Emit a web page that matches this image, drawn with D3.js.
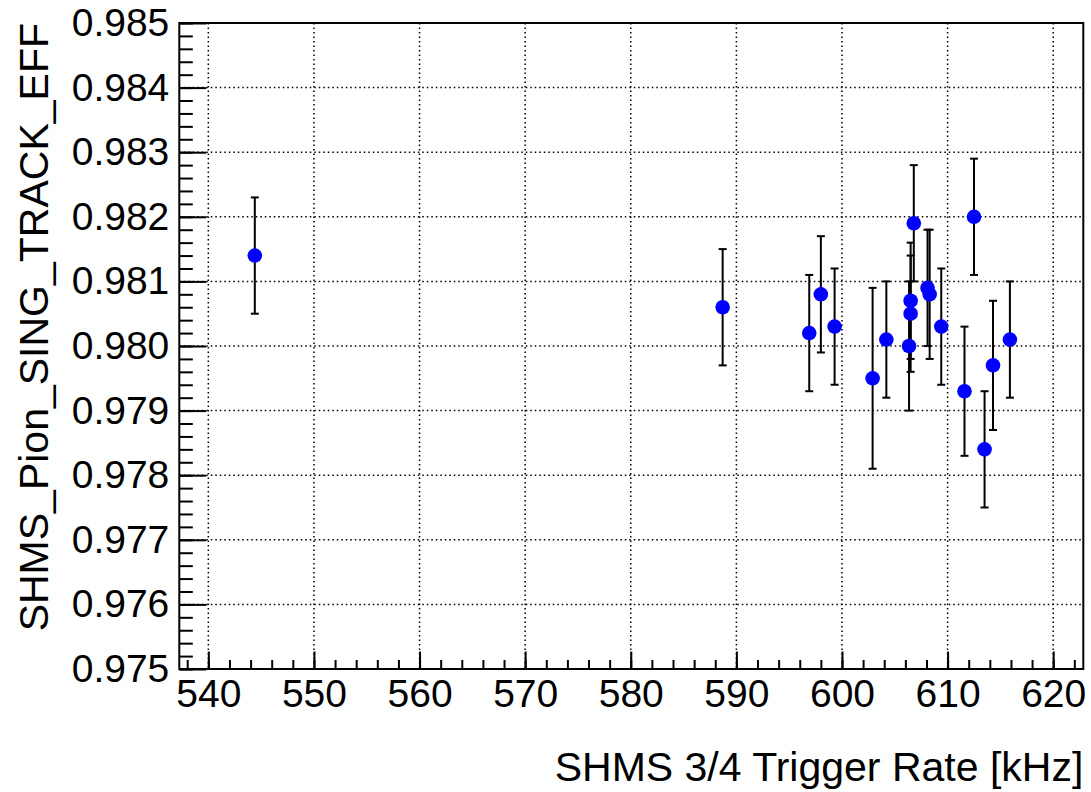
<!DOCTYPE html>
<html>
<head>
<meta charset="utf-8">
<script src="https://cdn.jsdelivr.net/npm/d3@7"></script>
<style>
  body { margin: 0; background: #fff; }
  svg { display: block; font-family: "Liberation Sans", Arial, sans-serif; }
  .axis .domain { display: none; }
  .axis line { stroke: #000; stroke-width: 2; }
  .axis text { font-size: 39px; fill: #000; font-family: "Liberation Sans", Arial, sans-serif; }
  .grid line { stroke: #000; stroke-width: 1.5; stroke-dasharray: 1.5,3; }
</style>
</head>
<body>
<svg id="graph"></svg>
<script>
// SHMS 3/4 trigger rate [kHz]
var rate = [544.4, 588.7, 596.9, 598.0, 599.3, 602.9, 604.2, 606.35, 606.5, 606.5,
            606.8, 608.1, 608.3, 609.4, 611.6, 612.5, 613.5, 614.3, 615.9];
// SHMS_Pion_SING_TRACK_EFF
var eff = [0.9814, 0.9806, 0.9802, 0.9808, 0.9803, 0.9795, 0.9801, 0.9800, 0.9805, 0.9807,
           0.9819, 0.9809, 0.9808, 0.9803, 0.9793, 0.9820, 0.9784, 0.9797, 0.9801];
var effErr = [0.0009, 0.0009, 0.0009, 0.0009, 0.0009, 0.0014, 0.0009, 0.0010, 0.0009, 0.0009,
              0.0009, 0.0009, 0.0010, 0.0009, 0.0010, 0.0009, 0.0009, 0.0010, 0.0009];

var xMajor = d3.range(540, 621, 10);
var xMinor = d3.range(538, 623, 2);
var yMajor = d3.range(0, 11).map(function (i) { return +(0.975 + i * 0.001).toFixed(3); });
var yMinor = d3.range(0, 51).map(function (i) { return +(0.975 + i * 0.0002).toFixed(4); });

var data = rate.map(function (r, i) {
    return { rate: r, eff: eff[i], err: effErr[i] };
});

var W = 1091, H = 792;
var margin = { top: 23, left: 179.3, bottom: 123, right: 7.7 };
var width = W - margin.left - margin.right;
var height = H - margin.top - margin.bottom;

var svg = d3.select('#graph')
    .attr('width', W)
    .attr('height', H)
    .append('g')
    .attr('transform', 'translate(' + margin.left + ',' + margin.top + ')');

var xScale = d3.scaleLinear().domain([537.25, 622.85]).range([0, width]);
var yScale = d3.scaleLinear().domain([0.975, 0.985]).range([height, 0]);

// dotted grid at major ticks
var grid = svg.append('g').attr('class', 'grid');
grid.selectAll('.gx').data(xMajor).enter().append('line')
    .attr('x1', function (d) { return xScale(d); })
    .attr('x2', function (d) { return xScale(d); })
    .attr('y1', 0).attr('y2', height);
grid.selectAll('.gy').data(yMajor).enter().append('line')
    .attr('x1', 0).attr('x2', width)
    .attr('y1', function (d) { return yScale(d); })
    .attr('y2', function (d) { return yScale(d); });

// minor ticks (inside)
svg.append('g')
    .attr('class', 'axis')
    .attr('transform', 'translate(0,' + height + ')')
    .call(d3.axisBottom(xScale).tickValues(xMinor).tickSize(-9).tickFormat(''));
svg.append('g')
    .attr('class', 'axis')
    .call(d3.axisLeft(yScale).tickValues(yMinor).tickSize(-13.5).tickFormat(''));

// major ticks + labels
svg.append('g')
    .attr('class', 'axis x')
    .attr('transform', 'translate(0,' + height + ')')
    .call(d3.axisBottom(xScale).tickValues(xMajor).tickSize(-17.5).tickPadding(10)
        .tickFormat(d3.format('d')));
svg.append('g')
    .attr('class', 'axis y')
    .call(d3.axisLeft(yScale).tickValues(yMajor).tickSize(-27).tickPadding(10)
        .tickFormat(d3.format('.3f')));

// frame
svg.append('rect')
    .attr('width', width)
    .attr('height', height)
    .attr('fill', 'none')
    .attr('stroke', '#000')
    .attr('stroke-width', 2);

// error bars
var bars = svg.append('g').attr('class', 'errors')
    .selectAll('g').data(data).enter().append('g')
    .attr('stroke', '#000')
    .attr('stroke-width', 2);
bars.append('line')
    .attr('x1', function (d) { return xScale(d.rate); })
    .attr('x2', function (d) { return xScale(d.rate); })
    .attr('y1', function (d) { return yScale(d.eff + d.err); })
    .attr('y2', function (d) { return yScale(d.eff - d.err); });
bars.append('line')  //top cap
    .attr('x1', function (d) { return xScale(d.rate) - 4; })
    .attr('x2', function (d) { return xScale(d.rate) + 4; })
    .attr('y1', function (d) { return yScale(d.eff + d.err); })
    .attr('y2', function (d) { return yScale(d.eff + d.err); });
bars.append('line')  //bottom cap
    .attr('x1', function (d) { return xScale(d.rate) - 4; })
    .attr('x2', function (d) { return xScale(d.rate) + 4; })
    .attr('y1', function (d) { return yScale(d.eff - d.err); })
    .attr('y2', function (d) { return yScale(d.eff - d.err); });

// markers
svg.append('g').selectAll('circle').data(data).enter().append('circle')
    .attr('cx', function (d) { return xScale(d.rate); })
    .attr('cy', function (d) { return yScale(d.eff); })
    .attr('r', 7.3)
    .attr('fill', '#0000ff');

// axis titles
svg.append('text')
    .attr('x', width)
    .attr('y', 781 - margin.top)
    .attr('text-anchor', 'end')
    .style('font-size', '41px')
    .text('SHMS 3/4 Trigger Rate [kHz]');

svg.append('text')
    .attr('transform', 'translate(' + (48 - margin.left) + ',0) rotate(-90)')
    .attr('text-anchor', 'end')
    .style('font-size', '41px')
    .text('SHMS_Pion_SING_TRACK_EFF');
</script>
</body>
</html>
